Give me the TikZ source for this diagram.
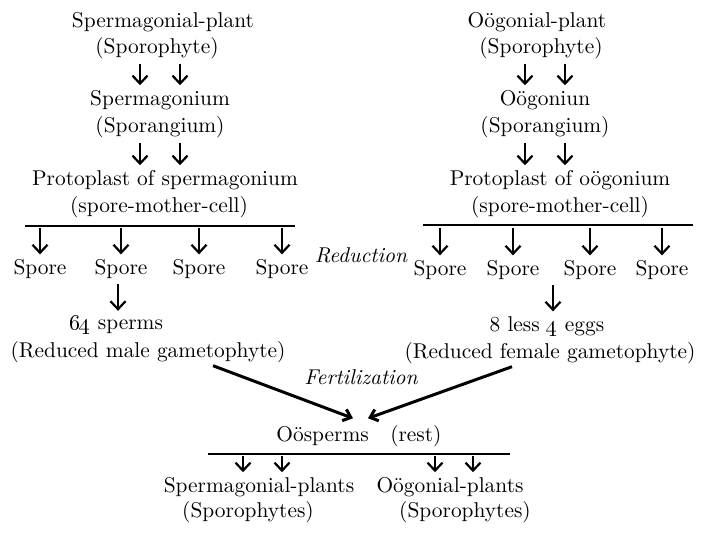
\documentclass[tikz,border=0pt]{standalone}
\usepackage{tikz}
\usetikzlibrary{arrows.meta}

\tikzset{
  lbl/.style={inner sep=1.5pt, outer sep=0pt, font=\fontsize{10.7}{12.8}\selectfont},
  lblit/.style={lbl, font=\fontsize{10.7}{12.8}\selectfont\itshape},
  arr/.style={line width=1.1pt, -{Straight Barb[length=4pt,width=7.5pt]}, shorten >=1pt, shorten <=1pt},
  bigarr/.style={line width=1.5pt, -{Straight Barb[length=3.5pt,width=6pt]}},
  bar/.style={line width=1.4pt},
}

\begin{document}
\begin{tikzpicture}[x=0.5pt,y=-0.5pt]
  \useasboundingbox (0,0) rectangle (714,533);

  % left line: spermagonial plant
  \node[lbl] (spL)  at (163,22)  {Spermagonial-plant};
  \node[lbl] (sphL) at (157,48)  {(Sporophyte)};
  \node[lbl] (sgL)  at (160,100) {Spermagonium};
  \node[lbl] (sgsL) at (160,127) {(Sporangium)};
  \node[lbl] (ppL)  at (165,180) {Protoplast of spermagonium};
  \node[lbl] (smcL) at (159,207) {(spore-mother-cell)};
  \coordinate (barLa) at (25,226);
  \coordinate (barLb) at (295,226);
  \node[lbl] (sL1) at (40,269)  {Spore};
  \node[lbl] (sL2) at (121,269) {Spore};
  \node[lbl] (sL3) at (199,269) {Spore};
  \node[lbl] (sL4) at (282,269) {Spore};
  \node[lbl] (gmL)  at (116,325) {\oldstylenums{64} sperms};
  \node[lbl] (redL) at (148,352) {(Reduced male gametophyte)};

  % right line: oogonial plant
  \node[lbl] (spR)  at (537,22)  {Oögonial-plant};
  \node[lbl] (sphR) at (541,48)  {(Sporophyte)};
  \node[lbl] (sgR)  at (545,100) {Oögoniun};
  \node[lbl] (sgsR) at (545,127) {(Sporangium)};
  \node[lbl] (ppR)  at (560,180) {Protoplast of oögonium};
  \node[lbl] (smcR) at (560,207) {(spore-mother-cell)};
  \coordinate (barRa) at (423,225);
  \coordinate (barRb) at (693,225);
  \node[lbl] (sR1) at (440,270) {Spore};
  \node[lbl] (sR2) at (513,270) {Spore};
  \node[lbl] (sR3) at (590,270) {Spore};
  \node[lbl] (sR4) at (662,270) {Spore};
  \node[lbl] (gmR)  at (547,326) {8 less \oldstylenums{4} eggs};
  \node[lbl] (redR) at (550,353) {(Reduced female gametophyte)};

  \node[lblit] (red)  at (361,255) {Reduction};
  \node[lblit] (fert) at (361,377) {Fertilization};

  % bottom
  \node[lbl] (oos)   at (359,436) {Oösperms\quad(rest)};
  \coordinate (barBa) at (208,454);
  \coordinate (barBb) at (510,454);
  \node[lbl] (sgpL)  at (259,487) {Spermagonial-plants};
  \node[lbl] (sgpR)  at (450,487) {Oögonial-plants};
  \node[lbl] (sphsL) at (248,512) {(Sporophytes)};
  \node[lbl] (sphsR) at (465,512) {(Sporophytes)};

  % double arrows
  \foreach \x in {140,180} {
    \draw[arr] (\x,0 |- sphL.south) -- (\x,0 |- sgL.north);
    \draw[arr] (\x,0 |- sgsL.south) -- (\x,0 |- ppL.north);
  }
  \foreach \x in {525,565} {
    \draw[arr] (\x,0 |- sphR.south) -- (\x,0 |- sgR.north);
    \draw[arr] (\x,0 |- sgsR.south) -- (\x,0 |- ppR.north);
  }

  % reduction division
  \draw[bar] (barLa) -- (barLb);
  \draw[bar] (barRa) -- (barRb);
  \foreach \n in {sL1,sL2,sL3,sL4,sR1,sR2,sR3,sR4}
    \draw[arr] (\n.north |- barLa) -- (\n.north);
  \draw[arr] (118,0 |- sL2.south) -- (118,0 |- gmL.north);
  \draw[arr] (553,0 |- sR3.south) -- (553,0 |- gmR.north);

  % fertilization
  \draw[bigarr] (213,0 |- redL.south) -- ([xshift=-3pt,yshift=2pt]oos.north);
  \draw[bigarr] (512,0 |- redR.south) -- ([xshift=4.5pt,yshift=2pt]oos.north);

  % oosperm germination
  \draw[bar] (barBa) -- (barBb);
  \foreach \x in {243,282}
    \draw[arr] (\x,0 |- barBa) -- (\x,0 |- sgpL.north);
  \foreach \x in {435,473}
    \draw[arr] (\x,0 |- barBa) -- (\x,0 |- sgpR.north);
\end{tikzpicture}
\end{document}
